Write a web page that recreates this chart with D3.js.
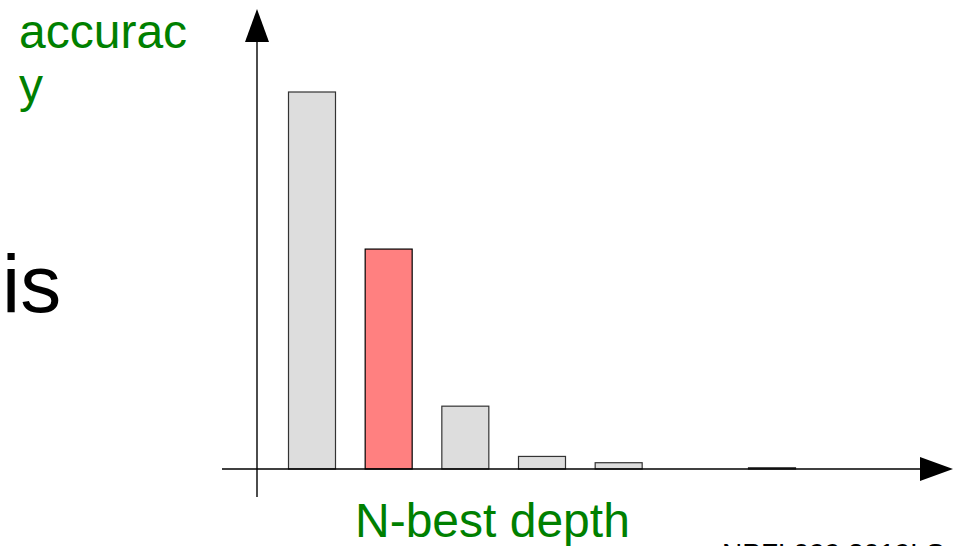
<!DOCTYPE html>
<html>
<head>
<meta charset="utf-8">
<script src="https://cdn.jsdelivr.net/npm/d3@7"></script>
<style>
  html, body { margin: 0; padding: 0; background: #fff; overflow: hidden; }
  svg { display: block; font-family: "Liberation Sans", Arial, sans-serif; }
</style>
</head>
<body>
<script>
// ---- data ----
const depths = [1, 2, 3, 4, 5, 7];
const accuracyShare = [60, 35, 10, 2, 1, 0.2];
const highlighted = [false, true, false, false, false, false];
const yLabelLines = ["accurac", "y"];
const xLabel = "N-best depth";
const sideText = "is";
const footer = "NPFL099 2019LS";

const W = 954, H = 546;
const svg = d3.select("body").append("svg").attr("width", W).attr("height", H);

const x = d3.scaleLinear().domain([1, 7]).range([312, 772]);
const y = d3.scaleLinear().domain([0, 60]).range([469, 92]);
const barW = 47;

// bars
svg.append("g").selectAll("rect")
  .data(depths.map((d, i) => ({ d, v: accuracyShare[i], hi: highlighted[i] })))
  .join("rect")
  .attr("x", d => x(d.d) - barW / 2)
  .attr("y", d => y(d.v))
  .attr("width", barW)
  .attr("height", d => y(0) - y(d.v))
  .attr("fill", d => d.hi ? "#ff8080" : "#dddddd")
  .attr("stroke", d => d.hi ? "#000" : "#333")
  .attr("stroke-width", 1.2);

// axes
const axisY0 = y(0);
const yAxisX = 257;
svg.append("line").attr("x1", 222).attr("x2", 922).attr("y1", axisY0).attr("y2", axisY0)
  .attr("stroke", "#000").attr("stroke-width", 1.6);
svg.append("path").attr("d", `M920,${axisY0 - 12} L953,${axisY0} L920,${axisY0 + 12} Z`).attr("fill", "#000");

svg.append("line").attr("x1", yAxisX).attr("x2", yAxisX).attr("y1", 497).attr("y2", 40)
  .attr("stroke", "#000").attr("stroke-width", 1.4);
svg.append("path").attr("d", `M${yAxisX - 12},42 L${yAxisX},9 L${yAxisX + 12},42 Z`).attr("fill", "#000");

// texts
const green = "#008000";
svg.append("text").attr("x", 19).attr("y", 48).attr("font-size", 48).attr("fill", green)
  .selectAll("tspan").data(yLabelLines).join("tspan")
  .attr("x", 19).attr("dy", (d, i) => i === 0 ? 0 : 54).text(d => d);

svg.append("text").attr("x", 355).attr("y", 537).attr("font-size", 48).attr("fill", green).text(xLabel);

svg.append("text").attr("x", 2).attr("y", 312).attr("font-size", 82).attr("fill", "#000").text(sideText);

svg.append("text").attr("x", 722).attr("y", 563).attr("font-size", 28).attr("fill", "#000").text(footer);
</script>
</body>
</html>
